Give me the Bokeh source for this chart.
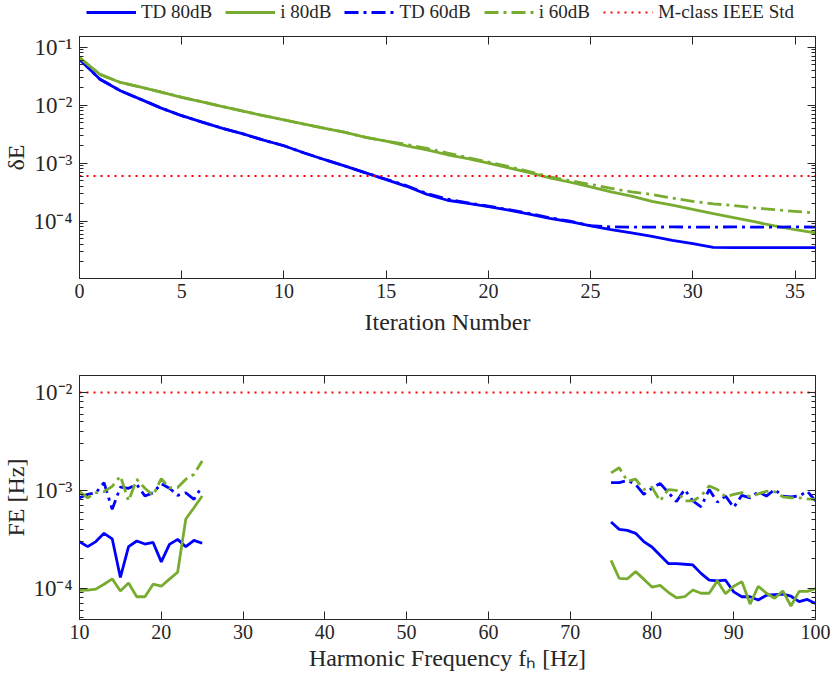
import math
from bokeh.plotting import figure
from bokeh.models import (Range1d, LogAxis, LinearAxis, FixedTicker,
                          CustomJSTickFormatter, Legend, LegendItem)
from bokeh.layouts import column
from bokeh.embed import file_html
from bokeh.resources import INLINE

# ---------------- data: top panel (delta E vs iteration) ----------------
iterations = list(range(37))
td_80db = [0.062, 0.028, 0.0178, 0.0126, 0.0089, 0.0066, 0.0051, 0.0040, 0.0032, 0.0025,
           0.0020, 0.0015, 0.00115, 0.00089, 0.00068, 0.00052, 0.00040, 0.00029, 0.00023,
           0.000204, 0.000178, 0.000155, 0.000132, 0.000112, 0.000098, 0.000083, 0.000072,
           0.000063, 0.000055, 0.000047, 0.000041, 0.0000355, 0.000035, 0.000035, 0.000035,
           0.000035, 0.000035]
td_60db = [0.062, 0.028, 0.0178, 0.0126, 0.0089, 0.0066, 0.0051, 0.0040, 0.0032, 0.0025,
           0.0020, 0.0015, 0.00115, 0.00089, 0.00068, 0.00053, 0.00041, 0.00030, 0.00024,
           0.000208, 0.000182, 0.000158, 0.000136, 0.000115, 0.000100, 0.000084, 0.000080,
           0.000079, 0.000079, 0.000080, 0.000079, 0.000079, 0.000080, 0.000079, 0.000079,
           0.000080, 0.000079]
i_80db = [0.066, 0.034, 0.0247, 0.0205, 0.0168, 0.0137, 0.0114, 0.0095, 0.0079, 0.0066,
          0.0056, 0.0047, 0.0040, 0.0034, 0.0028, 0.0024, 0.0020, 0.0017, 0.0014, 0.0012,
          0.0010, 0.00083, 0.00069, 0.00056, 0.00047, 0.00039, 0.00032, 0.00027, 0.00022,
          0.00019, 0.00016, 0.000135, 0.000115, 0.000098, 0.000083, 0.000072, 0.000063]
i_60db = [0.066, 0.034, 0.0247, 0.0205, 0.0168, 0.0137, 0.0114, 0.0095, 0.0079, 0.0066,
          0.0056, 0.0047, 0.0040, 0.0034, 0.0028, 0.0024, 0.0021, 0.0018, 0.0015, 0.00125,
          0.00105, 0.00087, 0.00072, 0.00058, 0.00050, 0.00043, 0.00037, 0.00032, 0.00029,
          0.00025, 0.00022, 0.00020, 0.000186, 0.00017, 0.000158, 0.000148, 0.000138]
mclass_de = 0.0006

# ---------------- data: bottom panel (FE vs harmonic frequency) ----------------
freq_low = list(range(10, 26))
freq_high = list(range(75, 101))
fe_td80_low = [3.0e-4, 2.66e-4, 3.0e-4, 3.64e-4, 3.2e-4, 1.29e-4, 2.66e-4, 3.04e-4,
               2.83e-4, 2.94e-4, 1.86e-4, 2.81e-4, 3.16e-4, 2.66e-4, 3.09e-4, 2.88e-4]
fe_td80_high = [4.75e-4, 4.0e-4, 3.9e-4, 3.64e-4, 3.0e-4, 2.64e-4, 2.17e-4, 1.79e-4, 1.79e-4,
                1.76e-4, 1.73e-4, 1.42e-4, 1.21e-4, 1.19e-4, 1.21e-4, 9.2e-5, 8.2e-5, 8.2e-5,
                7.6e-5, 8.5e-5, 8.6e-5, 8.7e-5, 8.3e-5, 7.3e-5, 7.7e-5, 7.0e-5]
fe_i80_low = [9.5e-5, 9.6e-5, 9.8e-5, 1.1e-4, 1.25e-4, 9.4e-5, 1.13e-4, 8.2e-5,
              8.2e-5, 1.1e-4, 1.05e-4, 1.24e-4, 1.46e-4, 5.1e-4, 6.65e-4, 8.75e-4]
fe_i80_high = [1.93e-4, 1.26e-4, 1.25e-4, 1.48e-4, 1.24e-4, 1.03e-4, 1.07e-4, 9.1e-5, 8.0e-5,
               8.2e-5, 9.6e-5, 8.9e-5, 8.9e-5, 1.19e-4, 8.8e-5, 1.05e-4, 1.17e-4, 6.9e-5,
               1.05e-4, 8.9e-5, 7.9e-5, 9.4e-5, 6.6e-5, 9.3e-5, 9.3e-5, 9.9e-5]
fe_td60_low = [8.4e-4, 9.1e-4, 9.45e-4, 1.2e-3, 6.4e-4, 1.08e-3, 1.05e-3, 1.15e-3,
               8.75e-4, 9.45e-4, 1.17e-3, 1.05e-3, 8.9e-4, 9.45e-4, 8.1e-4, 1.1e-3]
fe_td60_high = [1.2e-3, 1.2e-3, 1.26e-3, 1.15e-3, 9.1e-4, 1.05e-3, 1.18e-3, 9.5e-4, 7.7e-4,
                1.02e-3, 7.8e-4, 6.8e-4, 1.02e-3, 7.6e-4, 8.75e-4, 6.7e-4, 8.9e-4, 8.4e-4,
                9.7e-4, 8.75e-4, 1.02e-3, 8.75e-4, 8.6e-4, 8.75e-4, 9.8e-4, 7.8e-4]
fe_i60_low = [9.7e-4, 8.4e-4, 9.45e-4, 9.7e-4, 1.1e-3, 1.4e-3, 7.8e-4, 1.3e-3,
              1.05e-3, 8.9e-4, 1.32e-3, 1.06e-3, 1.07e-3, 1.3e-3, 1.46e-3, 2.0e-3]
fe_i60_high = [1.51e-3, 1.7e-3, 1.24e-3, 1.3e-3, 1.02e-3, 1.08e-3, 7.8e-4, 1.02e-3, 1.0e-3,
               7.8e-4, 7.8e-4, 8.75e-4, 1.11e-3, 1.02e-3, 8.6e-4, 9.1e-4, 9.5e-4, 8.6e-4,
               9.2e-4, 9.8e-4, 9.7e-4, 8.6e-4, 8.4e-4, 8.4e-4, 8.2e-4, 8.1e-4]
mclass_fe = 0.01

series_labels = ["TD 80dB", "i 80dB", "TD 60dB", "i 60dB", "M-class IEEE Std"]
top_xticks = [0, 5, 10, 15, 20, 25, 30, 35]
bottom_xticks = [10, 20, 30, 40, 50, 60, 70, 80, 90, 100]
top_ydecades = [1e-5, 1e-4, 1e-3, 1e-2, 1e-1]
bottom_ydecades = [1e-5, 1e-4, 1e-3, 1e-2, 1e-1]

# ---------------- style ----------------
FONT = "Liberation Serif"
AX = "#262626"
BLUE = "#0000FF"
GREEN = "#77AC30"
RED = "#FF0000"
LW = 2.8
DASHDOT = "14 5 3 5"
DOT = "2 5"

sup_js = """
const m = {'-':'\u207b','0':'\u2070','1':'\u00b9','2':'\u00b2','3':'\u00b3','4':'\u2074',
           '5':'\u2075','6':'\u2076','7':'\u2077','8':'\u2078','9':'\u2079'};
const e = Math.round(Math.log10(tick));
return '10' + String(e).split('').map(c => m[c]).join('');
"""
blank_js = "return '';"


def minor_for(decades):
    return [m * d for d in decades for m in range(2, 10)]


def style_axis(ax, labels=True):
    ax.axis_line_color = AX
    ax.axis_line_width = 1
    ax.major_tick_line_color = AX
    ax.minor_tick_line_color = AX
    ax.major_tick_in = 8
    ax.major_tick_out = 0
    ax.minor_tick_in = 4
    ax.minor_tick_out = 0
    ax.major_label_text_font = FONT
    ax.major_label_text_color = AX
    ax.axis_label_text_font = FONT
    ax.axis_label_text_font_style = "normal"
    ax.axis_label_text_color = AX
    ax.axis_label_text_font_size = "24px"
    if not labels:
        ax.major_label_text_font_size = "0px"
        ax.major_label_standoff = 0
        ax.formatter = CustomJSTickFormatter(code=blank_js)


def make_fig(height, border_top, border_bottom, xr, yr, xticks, ydec, xlabel, ylabel,
             xlabel_standoff):
    p = figure(width=830, height=height, x_range=Range1d(*xr), y_range=Range1d(*yr),
               y_axis_type="log", output_backend="svg", toolbar_location=None,
               min_border_left=78, min_border_right=15, min_border_top=border_top,
               min_border_bottom=border_bottom)
    p.grid.visible = False
    p.outline_line_color = AX
    p.background_fill_color = "white"
    p.border_fill_color = "white"

    xt = FixedTicker(ticks=xticks)
    yt = FixedTicker(ticks=ydec, minor_ticks=minor_for(ydec))

    xa = p.xaxis[0]
    xa.ticker = xt
    style_axis(xa)
    xa.major_label_text_font_size = "20px"
    xa.major_label_standoff = 5
    xa.axis_label = xlabel
    xa.axis_label_standoff = xlabel_standoff

    ya = p.yaxis[0]
    ya.ticker = yt
    style_axis(ya)
    ya.formatter = CustomJSTickFormatter(code=sup_js)
    ya.major_label_text_font_size = "23px"
    ya.major_label_standoff = 7
    ya.axis_label = ylabel
    ya.axis_label_standoff = 1

    top = LinearAxis(ticker=FixedTicker(ticks=xticks))
    style_axis(top, labels=False)
    p.add_layout(top, "above")
    right = LogAxis(ticker=FixedTicker(ticks=ydec, minor_ticks=minor_for(ydec)))
    style_axis(right, labels=False)
    p.add_layout(right, "right")
    return p


# ---------------- legend strip (series drawn off-screen, legend only) ----------------
p0 = figure(width=830, height=23, x_range=Range1d(0, 36), y_range=Range1d(1, 10),
            y_axis_type="log", output_backend="svg", toolbar_location=None,
            min_border=0, x_axis_location=None, y_axis_location=None)
p0.grid.visible = False
p0.outline_line_color = None
lg = [p0.line(iterations, td_80db, color=BLUE, line_width=LW),
      p0.line(iterations, i_80db, color=GREEN, line_width=LW),
      p0.line(iterations, td_60db, color=BLUE, line_width=LW, line_dash=DASHDOT),
      p0.line(iterations, i_60db, color=GREEN, line_width=LW, line_dash=DASHDOT),
      p0.line([iterations[0], iterations[-1]], [mclass_de, mclass_de], color=RED,
              line_width=2, line_dash=DOT)]
legend = Legend(items=[LegendItem(label=lab, renderers=[r])
                       for lab, r in zip(series_labels, lg)],
                orientation="horizontal", location=(7, 0),
                label_text_font=FONT, label_text_font_size="19px", label_text_color=AX,
                glyph_width=50, glyph_height=16, label_standoff=5, spacing=13,
                padding=0, margin=0, border_line_color=None, background_fill_alpha=0,
                label_height=16)
p0.add_layout(legend)

# ---------------- top panel ----------------
p1 = make_fig(314, 13, 57, (0, 36), (1.03e-5, 0.153), top_xticks, top_ydecades,
              "Iteration Number", "\u03b4E", 8)
p1.line(iterations, td_80db, color=BLUE, line_width=LW)
p1.line(iterations, i_80db, color=GREEN, line_width=LW)
p1.line(iterations, td_60db, color=BLUE, line_width=LW, line_dash=DASHDOT)
p1.line(iterations, i_60db, color=GREEN, line_width=LW, line_dash=DASHDOT)
p1.line([iterations[0], iterations[-1]], [mclass_de, mclass_de], color=RED,
        line_width=2, line_dash=DOT)

# ---------------- bottom panel ----------------
nan = float("nan")
fx = freq_low + [nan] + freq_high
p2 = make_fig(341, 38, 59, (10, 100), (4.8e-5, 0.0149), bottom_xticks, bottom_ydecades,
              "Harmonic Frequency f\u2095 [Hz]", "FE [Hz]", 3)
p2.line(fx, fe_td80_low + [nan] + fe_td80_high, color=BLUE, line_width=LW)
p2.line(fx, fe_i80_low + [nan] + fe_i80_high, color=GREEN, line_width=LW)
p2.line(fx, fe_td60_low + [nan] + fe_td60_high, color=BLUE, line_width=LW, line_dash=DASHDOT)
p2.line(fx, fe_i60_low + [nan] + fe_i60_high, color=GREEN, line_width=LW, line_dash=DASHDOT)
p2.line([bottom_xticks[0], bottom_xticks[-1]], [mclass_fe, mclass_fe], color=RED,
        line_width=2, line_dash=DOT)

layout = column(p0, p1, p2, spacing=0)
open("out.html", "w").write(file_html(layout, INLINE))
